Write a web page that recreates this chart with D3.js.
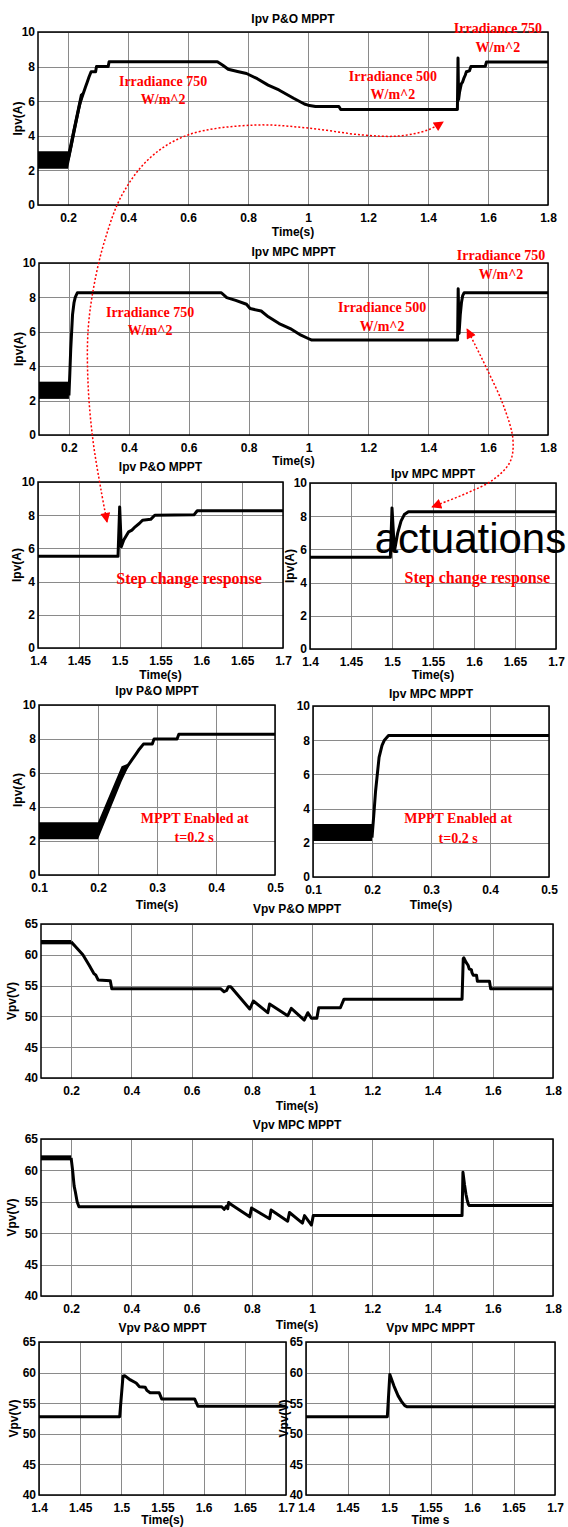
<!DOCTYPE html>
<html>
<head>
<meta charset="utf-8">
<script src="https://cdn.jsdelivr.net/npm/d3@7"></script>
<style>
  body { margin: 0; background: #fff; }
  svg { display: block; }
</style>
</head>
<body>
<svg id="fig" width="568" height="1527"></svg>
<script>
// ---- values ----
// Ipv, P&O MPPT (time s, current A)
var ipvPoT = [0.2, 0.21, 0.22, 0.23, 0.24, 0.25, 0.258, 0.264, 0.27, 0.277, 0.292, 0.295, 0.334, 0.337,
  0.698, 0.716, 0.734, 0.765, 0.795, 0.831, 0.867, 0.903, 0.952, 0.988, 1.0, 1.025, 1.103, 1.109,
  1.498, 1.5, 1.502, 1.505, 1.511, 1.515, 1.519, 1.524, 1.528, 1.538, 1.543, 1.591, 1.595, 1.8];
var ipvPoV = [2.6, 3.4, 4.3, 5.1, 5.9, 6.4, 6.8, 7.1, 7.4, 7.7, 7.7, 8.0, 8.0, 8.28,
  8.28, 8.08, 7.85, 7.72, 7.6, 7.3, 6.93, 6.65, 6.17, 5.84, 5.77, 5.69, 5.69, 5.52,
  5.52, 8.5, 6.1, 6.5, 7.0, 7.1, 7.3, 7.5, 7.7, 7.75, 8.0, 8.02, 8.27, 8.27];
// ripple envelope before/while MPPT starts
var ipvPoBandT = [0.1, 0.2, 0.24, 0.255];
var ipvPoBandLo = [2.1, 2.1, 5.5, 6.6];
var ipvPoBandHi = [3.1, 3.1, 6.4, 6.6];

// Ipv, MPC MPPT
var ipvMpcT = [0.2, 0.203, 0.206, 0.212, 0.217, 0.221, 0.228, 0.709, 0.727, 0.757, 0.793, 0.805,
  0.842, 0.866, 0.902, 0.939, 0.975, 0.999, 1.011, 1.498, 1.5, 1.503, 1.507, 1.511, 1.515, 1.52, 1.8];
var ipvMpcV = [2.3, 3.6, 5.0, 7.0, 7.7, 8.0, 8.27, 8.27, 7.99, 7.83, 7.6, 7.35,
  7.21, 6.87, 6.48, 6.19, 5.8, 5.61, 5.52, 5.52, 8.5, 5.9, 7.0, 7.7, 8.1, 8.27, 8.27];
var ipvMpcBandT = [0.1, 0.2];
var ipvMpcBandLo = [2.1, 2.1];
var ipvMpcBandHi = [3.1, 3.1];

// Vpv, P&O MPPT (volts)
var vpvPoT = [0.2, 0.215, 0.239, 0.26, 0.275, 0.282, 0.29, 0.33, 0.335, 0.696, 0.708, 0.716, 0.722, 0.73,
  0.793, 0.805, 0.853, 0.859, 0.919, 0.931, 0.974, 0.986, 0.998, 1.016, 1.022, 1.094, 1.106,
  1.498, 1.502, 1.504, 1.511, 1.518, 1.522, 1.529, 1.531, 1.535, 1.546, 1.549, 1.589, 1.593, 1.8];
var vpvPoV = [62.1, 61.3, 60.0, 58.3, 57.0, 56.7, 55.9, 55.8, 54.5, 54.5, 54.0, 54.2, 54.8, 54.8,
  51.2, 52.5, 50.6, 52.0, 50.1, 51.3, 49.4, 50.6, 49.7, 49.7, 51.4, 51.4, 52.8,
  52.8, 59.4, 59.5, 58.8, 58.3, 57.7, 57.6, 57.1, 56.7, 56.7, 55.7, 55.7, 54.5, 54.5];
var vpvPoBandT = [0.1, 0.2];
var vpvPoBandLo = [61.7, 61.7];
var vpvPoBandHi = [62.4, 62.4];

// Vpv, MPC MPPT
var vpvMpcT = [0.2, 0.205, 0.21, 0.214, 0.22, 0.226, 0.70, 0.708, 0.716, 0.72, 0.723, 0.73,
  0.793, 0.799, 0.859, 0.864, 0.919, 0.925, 0.968, 0.975, 0.998, 1.004,
  1.498, 1.501, 1.506, 1.511, 1.515, 1.519, 1.522, 1.8];
var vpvMpcV = [62.0, 60.0, 57.5, 56.6, 55.0, 54.2, 54.2, 53.8, 54.3, 53.9, 54.9, 54.6,
  52.6, 54.0, 52.3, 53.7, 51.9, 53.3, 51.6, 52.8, 51.3, 52.8,
  52.8, 59.7, 57.8, 56.2, 55.3, 54.6, 54.4, 54.4];
var vpvMpcBandT = [0.1, 0.2];
var vpvMpcBandLo = [61.6, 61.6];
var vpvMpcBandHi = [62.4, 62.4];

// tick labels
var ipvTicks = [0, 2, 4, 6, 8, 10];
var vpvTicks = [40, 45, 50, 55, 60, 65];
var fullTimeTicks = [0.2, 0.4, 0.6, 0.8, 1, 1.2, 1.4, 1.6, 1.8];
var stepTimeTicks = [1.4, 1.45, 1.5, 1.55, 1.6, 1.65, 1.7];
var startTimeTicks = [0.1, 0.2, 0.3, 0.4, 0.5];

var series = {
  ipvPO: { t: ipvPoT, v: ipvPoV, bt: ipvPoBandT, lo: ipvPoBandLo, hi: ipvPoBandHi },
  ipvMPC: { t: ipvMpcT, v: ipvMpcV, bt: ipvMpcBandT, lo: ipvMpcBandLo, hi: ipvMpcBandHi },
  vpvPO: { t: vpvPoT, v: vpvPoV, bt: vpvPoBandT, lo: vpvPoBandLo, hi: vpvPoBandHi },
  vpvMPC: { t: vpvMpcT, v: vpvMpcV, bt: vpvMpcBandT, lo: vpvMpcBandLo, hi: vpvMpcBandHi }
};

// ---- panel layout ----
var panels = [
  { key: "ipvPO", x0: 38, x1: 548, y0: 32, y1: 205, xd: [0.1, 1.8], yd: [0, 10], xt: fullTimeTicks, yt: ipvTicks,
    title: "Ipv P&O MPPT", ty: 23, xl: "Time(s)", xly: 236, yl: "Ipv(A)", ylx: 20 },
  { key: "ipvMPC", x0: 39, x1: 548, y0: 263, y1: 435, xd: [0.1, 1.8], yd: [0, 10], xt: fullTimeTicks, yt: ipvTicks,
    title: "Ipv MPC MPPT", ty: 256, xl: "Time(s)", xly: 465, yl: "Ipv(A)", ylx: 20 },
  { key: "ipvPO", x0: 38, x1: 283, y0: 482, y1: 648, xd: [1.4, 1.7], yd: [0, 10], xt: stepTimeTicks, yt: ipvTicks,
    title: "Ipv P&O MPPT", ty: 471, xl: "Time(s)", xly: 679, yl: "Ipv(A)", ylx: 21 },
  { key: "ipvMPC", x0: 310, x1: 556, y0: 483, y1: 649, xd: [1.4, 1.7], yd: [0, 10], xt: stepTimeTicks, yt: ipvTicks,
    title: "Ipv MPC MPPT", ty: 478, xl: "Time(s)", xly: 679, yl: "Ipv(A)", ylx: 20 },
  { key: "ipvPO", x0: 39, x1: 275, y0: 705, y1: 875, xd: [0.1, 0.5], yd: [0, 10], xt: startTimeTicks, yt: ipvTicks,
    title: "Ipv P&O MPPT", ty: 695, xl: "Time(s)", xly: 909, yl: "Ipv(A)", ylx: 21 },
  { key: "ipvMPC", x0: 313, x1: 549, y0: 706, y1: 877, xd: [0.1, 0.5], yd: [0, 10], xt: startTimeTicks, yt: ipvTicks,
    title: "Ipv MPC MPPT", ty: 698, xl: "Time(s)", xly: 909, yl: "", ylx: 20 },
  { key: "vpvPO", x0: 41, x1: 553, y0: 924, y1: 1078, xd: [0.1, 1.8], yd: [40, 65], xt: fullTimeTicks, yt: vpvTicks,
    title: "Vpv P&O MPPT", ty: 913, xl: "Time(s)", xly: 1110, yl: "Vpv(V)", ylx: 29 },
  { key: "vpvMPC", x0: 41, x1: 553, y0: 1139, y1: 1296, xd: [0.1, 1.8], yd: [40, 65], xt: fullTimeTicks, yt: vpvTicks,
    title: "Vpv MPC MPPT", ty: 1129, xl: "Time(s)", xly: 1329, yl: "Vpv(V)", ylx: 29 },
  { key: "vpvPO", x0: 39, x1: 286, y0: 1342, y1: 1495, xd: [1.4, 1.7], yd: [40, 65], xt: stepTimeTicks, yt: vpvTicks,
    title: "Vpv P&O MPPT", ty: 1332, xl: "Time(s)", xly: 1524, yl: "Vpv(V)", ylx: 25 },
  { key: "vpvMPC", x0: 306, x1: 555, y0: 1342, y1: 1495, xd: [1.4, 1.7], yd: [40, 65], xt: stepTimeTicks, yt: vpvTicks,
    title: "Vpv MPC MPPT", ty: 1332, xl: "Time s", xly: 1524, yl: "Vpv(V)", ylx: 22 }
];

// red notes placed in the data coordinates of their panel
var notes = [
  { p: 0, t: 0.517, v: 7.11, txt: "Irradiance 750" }, { p: 0, t: 0.517, v: 6.07, txt: "W/m^2" },
  { p: 0, t: 1.283, v: 7.4, txt: "Irradiance 500" }, { p: 0, t: 1.283, v: 6.36, txt: "W/m^2" },
  { p: 0, t: 1.633, v: 10.23, txt: "Irradiance 750" }, { p: 0, t: 1.633, v: 9.08, txt: "W/m^2" },
  { p: 1, t: 0.471, v: 7.14, txt: "Irradiance 750" }, { p: 1, t: 0.471, v: 6.09, txt: "W/m^2" },
  { p: 1, t: 1.246, v: 7.43, txt: "Irradiance 500" }, { p: 1, t: 1.246, v: 6.33, txt: "W/m^2" },
  { p: 1, t: 1.643, v: 10.45, txt: "Irradiance 750" }, { p: 1, t: 1.643, v: 9.34, txt: "W/m^2" },
  { p: 2, t: 1.585, v: 4.16, txt: "Step change response", big: true },
  { p: 3, t: 1.604, v: 4.28, txt: "Step change response", big: true },
  { p: 4, t: 0.364, v: 3.35, txt: "MPPT Enabled at" }, { p: 4, t: 0.363, v: 2.18, txt: "t=0.2 s" },
  { p: 5, t: 0.346, v: 3.45, txt: "MPPT Enabled at" }, { p: 5, t: 0.346, v: 2.28, txt: "t=0.2 s" }
];

// dotted arrows, points in panel data coordinates (scales extrapolate outside the box)
var arrowA = { p: 0,
  t: [0.33, 0.31, 0.283, 0.267, 0.267, 0.287, 0.323, 0.38, 0.473, 0.6, 0.82, 1.0, 1.18, 1.303, 1.4, 1.45],
  v: [-18.32, -16.47, -13.58, -10.4, -7.23, -4.62, -2.02, 0.58, 2.72, 4.05, 4.62, 4.45, 4.05, 3.99, 4.34, 4.8] };
var arrowB = { p: 1,
  t: [1.53, 1.593, 1.653, 1.683, 1.673, 1.616, 1.53, 1.413],
  v: [6.15, 3.95, 1.63, -0.29, -1.57, -2.61, -3.37, -4.18] };

var sans = "'Liberation Sans', Arial, Helvetica, sans-serif";
var serif = "'Liberation Serif', 'Times New Roman', Times, serif";

var svg = d3.select("#fig");
var fmt = d3.format("~g");

svg.append("defs").append("marker")
  .attr("id", "head")
  .attr("viewBox", "0 0 10 10")
  .attr("refX", 9).attr("refY", 5)
  .attr("markerWidth", 11).attr("markerHeight", 10)
  .attr("markerUnits", "userSpaceOnUse")
  .attr("orient", "auto-start-reverse")
  .append("path")
  .attr("d", "M0,0L10,5L0,10z")
  .attr("fill", "#f00");

var scales = [];

panels.forEach(function(p, i) {
  var x = d3.scaleLinear().domain(p.xd).range([p.x0, p.x1]);
  var y = d3.scaleLinear().domain(p.yd).range([p.y1, p.y0]);
  scales.push({ x: x, y: y });
  var w = p.x1 - p.x0, h = p.y1 - p.y0;

  svg.append("clipPath").attr("id", "clip" + i)
    .append("rect").attr("x", p.x0).attr("y", p.y0).attr("width", w).attr("height", h);

  // grid + tick labels
  var gx = svg.append("g")
    .attr("transform", "translate(0," + p.y1 + ")")
    .call(d3.axisBottom(x).tickValues(p.xt).tickFormat(fmt).tickSize(-h).tickPadding(8));
  var gy = svg.append("g")
    .attr("transform", "translate(" + p.x0 + ",0)")
    .call(d3.axisLeft(y).tickValues(p.yt).tickFormat(fmt).tickSize(-w).tickPadding(3));
  [gx, gy].forEach(function(g) {
    g.select(".domain").remove();
    g.selectAll("line").attr("stroke", "#8a8a8a").attr("stroke-width", 1)
      .attr("shape-rendering", "crispEdges");
    g.selectAll("text").attr("fill", "#000")
      .style("font-family", sans).style("font-size", "12px").style("font-weight", "bold");
  });

  var s = series[p.key];
  var plot = svg.append("g").attr("clip-path", "url(#clip" + i + ")");

  var band = d3.area()
    .x(function(d) { return x(d[0]); })
    .y0(function(d) { return y(d[1]); })
    .y1(function(d) { return y(d[2]); });
  plot.append("path")
    .attr("d", band(d3.zip(s.bt, s.lo, s.hi)))
    .attr("fill", "#000");

  var line = d3.line()
    .x(function(d) { return x(d[0]); })
    .y(function(d) { return y(d[1]); });
  plot.append("path")
    .attr("d", line(d3.zip(s.t, s.v)))
    .attr("fill", "none")
    .attr("stroke", "#000")
    .attr("stroke-width", 3)
    .attr("stroke-linejoin", "round");

  svg.append("rect")
    .attr("x", p.x0).attr("y", p.y0).attr("width", w).attr("height", h)
    .attr("fill", "none").attr("stroke", "#000").attr("stroke-width", 1.5);

  var cx = (p.x0 + p.x1) / 2;
  svg.append("text").attr("x", cx).attr("y", p.ty)
    .attr("text-anchor", "middle")
    .style("font-family", sans).style("font-size", "12px").style("font-weight", "bold")
    .text(p.title);
  svg.append("text").attr("x", cx).attr("y", p.xly)
    .attr("text-anchor", "middle")
    .style("font-family", sans).style("font-size", "12px").style("font-weight", "bold")
    .text(p.xl);
  var ly = (p.y0 + p.y1) / 2;
  svg.append("text")
    .attr("transform", "translate(" + (p.x0 - p.ylx) + "," + ly + ") rotate(-90)")
    .attr("text-anchor", "middle").attr("dominant-baseline", "central")
    .style("font-family", sans).style("font-size", "12px").style("font-weight", "bold")
    .text(p.yl);
});

// red annotations
notes.forEach(function(n) {
  var sc = scales[n.p];
  svg.append("text")
    .attr("x", sc.x(n.t)).attr("y", sc.y(n.v))
    .attr("text-anchor", "middle").attr("dominant-baseline", "central")
    .style("font-family", serif).style("font-weight", "bold")
    .style("font-size", (n.big ? 16 : 14) + "px")
    .attr("fill", "#f00")
    .text(n.txt);
});

[arrowA, arrowB].forEach(function(a) {
  var sc = scales[a.p];
  var curve = d3.line()
    .x(function(d) { return sc.x(d[0]); })
    .y(function(d) { return sc.y(d[1]); })
    .curve(d3.curveCatmullRom);
  svg.append("path")
    .attr("d", curve(d3.zip(a.t, a.v)))
    .attr("fill", "none")
    .attr("stroke", "#f00")
    .attr("stroke-width", 1.5)
    .attr("stroke-dasharray", "2,2")
    .attr("marker-start", "url(#head)")
    .attr("marker-end", "url(#head)");
});

// stray overlay word in the source figure
svg.append("text")
  .attr("x", scales[3].x(1.479)).attr("y", scales[3].y(5.78))
  .style("font-family", sans).style("font-size", "42px")
  .attr("fill", "#000")
  .text("actuations");
</script>
</body>
</html>
